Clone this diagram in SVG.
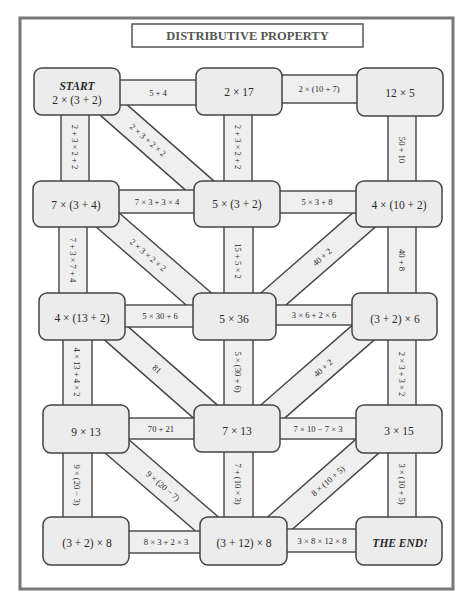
<svg xmlns="http://www.w3.org/2000/svg" width="474" height="609" viewBox="0 0 474 609">
<style>
.band{fill:#efefef;stroke:#444;stroke-width:1.4}
.dO{stroke:#444;stroke-width:27;stroke-linecap:butt}
.dI{stroke:#efefef;stroke-width:24.2;stroke-linecap:butt}
.node rect{fill:#ececec;stroke:#444;stroke-width:1.5}
.nt{font-family:"Liberation Serif","DejaVu Serif",serif;font-size:11.5px;fill:#2a2a2a;text-anchor:middle;dominant-baseline:central}
.ct{font-family:"Liberation Serif","DejaVu Serif",serif;font-size:8.6px;fill:#2a2a2a;text-anchor:middle;dominant-baseline:central}
.it{font-style:italic;font-weight:bold}
</style>
<rect x="0" y="0" width="474" height="609" fill="#fff"/>
<rect x="20" y="18" width="433" height="571" fill="#fff" stroke="#777" stroke-width="3"/>
<g id="title">
<rect x="132" y="24" width="231" height="23" fill="#fff" stroke="#555" stroke-width="1.5"/>
<text x="247.5" y="36" font-family="Liberation Serif, DejaVu Serif, serif" font-size="12.5" font-weight="bold" fill="#555" text-anchor="middle" dominant-baseline="central">DISTRIBUTIVE PROPERTY</text>
</g>
<g id="connectors">
<!-- diagonals -->
<line class="dO" x1="100" y1="98" x2="215" y2="199"/><line class="dI" x1="100" y1="98" x2="215" y2="199"/>
<line class="dO" x1="95" y1="209" x2="215" y2="313"/><line class="dI" x1="95" y1="209" x2="215" y2="313"/>
<line class="dO" x1="380" y1="206" x2="255" y2="315"/><line class="dI" x1="380" y1="206" x2="255" y2="315"/>
<line class="dO" x1="100" y1="319" x2="215" y2="420"/><line class="dI" x1="100" y1="319" x2="215" y2="420"/>
<line class="dO" x1="380" y1="318" x2="255" y2="427"/><line class="dI" x1="380" y1="318" x2="255" y2="427"/>
<line class="dO" x1="105" y1="436" x2="222" y2="537"/><line class="dI" x1="105" y1="436" x2="222" y2="537"/>
<line class="dO" x1="380" y1="435" x2="262" y2="539"/><line class="dI" x1="380" y1="435" x2="262" y2="539"/>
<!-- horizontals -->
<rect class="band" x="110" y="80" width="96" height="25"/>
<rect class="band" x="272" y="75" width="95" height="28"/>
<rect class="band" x="110" y="190" width="94" height="23"/>
<rect class="band" x="270" y="191" width="96" height="22"/>
<rect class="band" x="115" y="305" width="88" height="22"/>
<rect class="band" x="266" y="305" width="96" height="20"/>
<rect class="band" x="119" y="418" width="85" height="21"/>
<rect class="band" x="270" y="418" width="96" height="21"/>
<rect class="band" x="119" y="531" width="91" height="22"/>
<rect class="band" x="277" y="529" width="89" height="23"/>
<!-- verticals -->
<rect class="band" x="61" y="110" width="28" height="76"/>
<rect class="band" x="224" y="110" width="28" height="76"/>
<rect class="band" x="388" y="110" width="28" height="76"/>
<rect class="band" x="59" y="222" width="28" height="76"/>
<rect class="band" x="224" y="222" width="29" height="76"/>
<rect class="band" x="388" y="222" width="28" height="76"/>
<rect class="band" x="63" y="335" width="29" height="75"/>
<rect class="band" x="224" y="335" width="29" height="75"/>
<rect class="band" x="388" y="335" width="28" height="75"/>
<rect class="band" x="63" y="448" width="29" height="74"/>
<rect class="band" x="224" y="448" width="29" height="74"/>
<rect class="band" x="388" y="448" width="28" height="74"/>
<!-- labels -->
<text class="ct" x="158" y="93">5 + 4</text>
<text class="ct" x="319" y="89">2 × (10 + 7)</text>
<text class="ct" x="157" y="202">7 × 3 + 3 × 4</text>
<text class="ct" x="317" y="202">5 × 3 + 8</text>
<text class="ct" x="160" y="316">5 × 30 + 6</text>
<text class="ct" x="314" y="315">3 × 6 + 2 × 6</text>
<text class="ct" x="161" y="429">70 + 21</text>
<text class="ct" x="318" y="429">7 × 10 − 7 × 3</text>
<text class="ct" x="166" y="542">8 × 3 + 2 × 3</text>
<text class="ct" x="322" y="541">3 × 8 × 12 × 8</text>
<text class="ct" transform="translate(75,147) rotate(90)">2 + 3 × 2 + 2</text>
<text class="ct" transform="translate(238,147) rotate(90)">2 + 3 × 2 + 2</text>
<text class="ct" transform="translate(402,150) rotate(90)">50 + 10</text>
<text class="ct" transform="translate(73,260) rotate(90)">7 + 3 × 7 + 4</text>
<text class="ct" transform="translate(238,261) rotate(90)">15 + 5 × 2</text>
<text class="ct" transform="translate(402,260) rotate(90)">40 + 8</text>
<text class="ct" transform="translate(77,372) rotate(90)">4 × 13 + 4 × 2</text>
<text class="ct" transform="translate(238,372) rotate(90)">5 × (30 + 6)</text>
<text class="ct" transform="translate(402,374) rotate(90)">2 × 3 + 3 × 2</text>
<text class="ct" transform="translate(77,485) rotate(90)">9 × (20 − 3)</text>
<text class="ct" transform="translate(238,484) rotate(90)">7 + (10 × 3)</text>
<text class="ct" transform="translate(402,484) rotate(90)">3 × (10 + 5)</text>
<text class="ct" transform="translate(148,140) rotate(41.3)">2 × 3 + 2 × 2</text>
<text class="ct" transform="translate(148,255) rotate(40.9)">2 × 3 × 2 × 2</text>
<text class="ct" transform="translate(322,257) rotate(-41.1)">40 + 2</text>
<text class="ct" transform="translate(157,369) rotate(41.3)">81</text>
<text class="ct" transform="translate(323,368) rotate(-41.1)">40 + 2</text>
<text class="ct" transform="translate(163,486) rotate(40.8)">9 × (20 − 7)</text>
<text class="ct" transform="translate(328,481) rotate(-41.4)">8 × (10 + 5)</text>
</g>
<g id="n-start" class="node"><rect x="34" y="68" width="86" height="47" rx="8"/><text class="nt it" x="77" y="86" font-size="10.5">START</text><text class="nt" x="77" y="100">2 × (3 + 2)</text></g>
<g id="n-2x17" class="node"><rect x="196" y="68" width="86" height="47" rx="8"/><text class="nt" x="239" y="92">2 × 17</text></g>
<g id="n-12x5" class="node"><rect x="357" y="68" width="86" height="48" rx="8"/><text class="nt" x="400" y="93">12 × 5</text></g>
<g id="n-7x3p4" class="node"><rect x="33" y="181" width="86" height="46" rx="8"/><text class="nt" x="76" y="205">7 × (3 + 4)</text></g>
<g id="n-5x3p2" class="node"><rect x="194" y="181" width="86" height="46" rx="8"/><text class="nt" x="237" y="204">5 × (3 + 2)</text></g>
<g id="n-4x10p2" class="node"><rect x="356" y="181" width="86" height="46" rx="8"/><text class="nt" x="399" y="205">4 × (10 + 2)</text></g>
<g id="n-4x13p2" class="node"><rect x="39" y="293" width="86" height="47" rx="8"/><text class="nt" x="82" y="318">4 × (13 + 2)</text></g>
<g id="n-5x36" class="node"><rect x="193" y="293" width="83" height="47" rx="8"/><text class="nt" x="234" y="319">5 × 36</text></g>
<g id="n-3p2x6" class="node"><rect x="352" y="293" width="85" height="47" rx="8"/><text class="nt" x="395" y="319">(3 + 2) × 6</text></g>
<g id="n-9x13" class="node"><rect x="43" y="405" width="86" height="48" rx="8"/><text class="nt" x="86" y="432">9 × 13</text></g>
<g id="n-7x13" class="node"><rect x="194" y="405" width="86" height="47" rx="8"/><text class="nt" x="237" y="431">7 × 13</text></g>
<g id="n-3x15" class="node"><rect x="356" y="405" width="86" height="48" rx="8"/><text class="nt" x="399" y="431">3 × 15</text></g>
<g id="n-3p2x8" class="node"><rect x="43" y="517" width="86" height="48" rx="8"/><text class="nt" x="87" y="543">(3 + 2) × 8</text></g>
<g id="n-3p12x8" class="node"><rect x="200" y="517" width="87" height="48" rx="8"/><text class="nt" x="244" y="543">(3 + 12) × 8</text></g>
<g id="n-end" class="node"><rect x="356" y="517" width="86" height="48" rx="8"/><text class="nt it" x="400" y="543" font-size="10.5">THE END!</text></g>
</svg>
